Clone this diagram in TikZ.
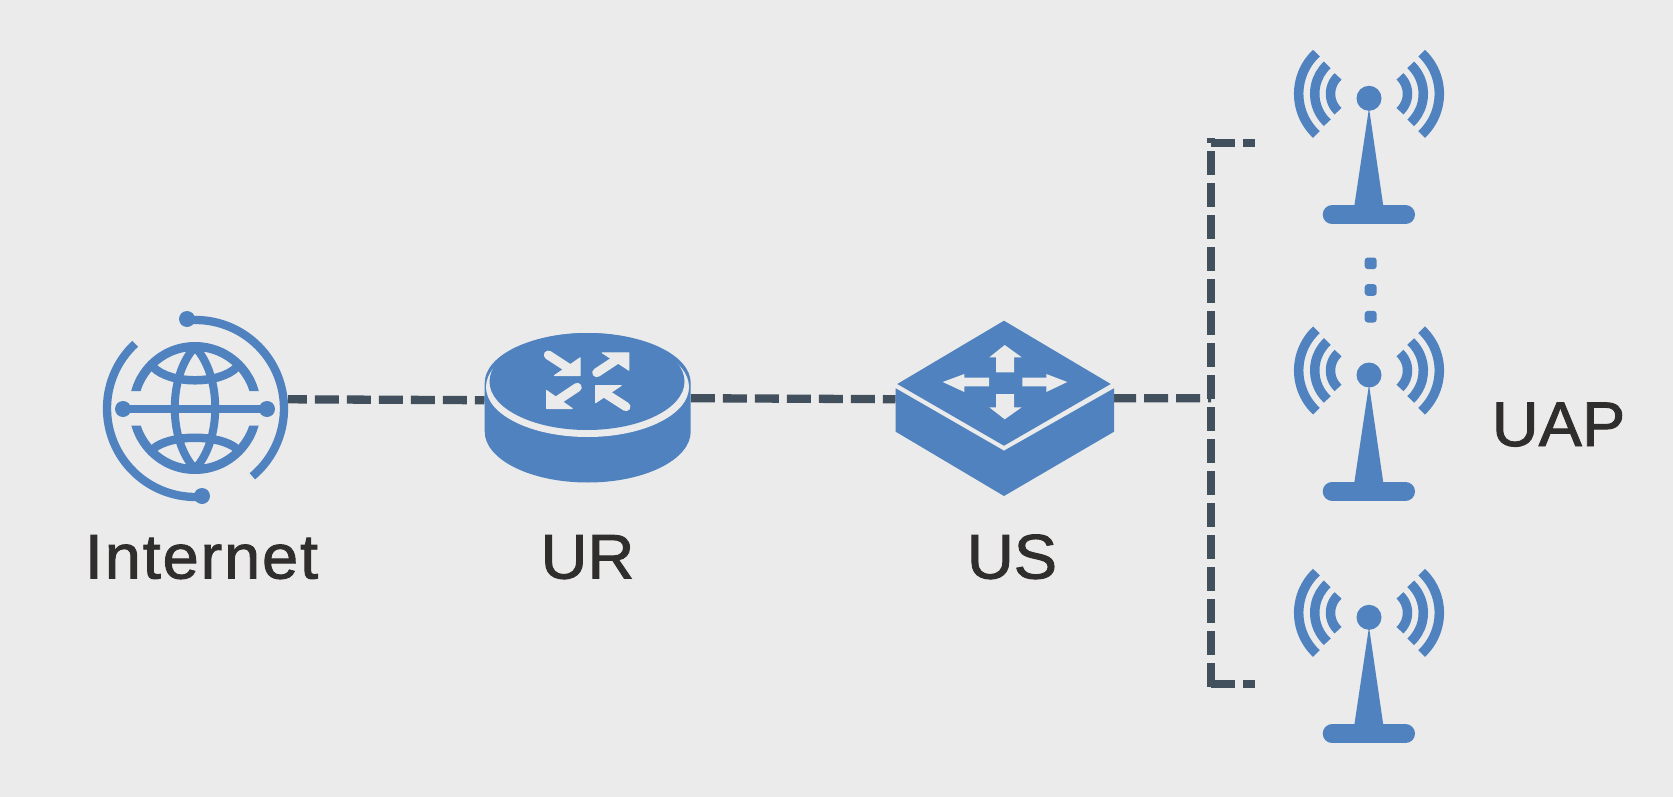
\documentclass[tikz,border=0pt]{standalone}
\usepackage{xcolor}
\usepackage{fontspec}
\setmainfont[FakeStretch=1.03, FakeBold=1.5]{Liberation Sans}
\definecolor{iconBlue}{RGB}{79,130,190}
\definecolor{paleGray}{RGB}{235,235,235}
\definecolor{linkGray}{RGB}{66,80,94}
\definecolor{labelDark}{RGB}{48,45,45}
\tikzset{
  portbox/.style={inner sep=0pt, minimum height=2pt},
  link/.style={draw=linkGray, line width=8.3pt, dash pattern=on 24pt off 8pt},
  caption/.style={text=labelDark, anchor=base, inner sep=0pt, font=\fontsize{63}{70}\selectfont},
  globeline/.style={draw=iconBlue, line width=8pt},
  turnarrow/.style={draw=paleGray, fill=paleGray, line width=1pt, line join=round},
  turntail/.style={draw=paleGray, line width=9pt, line cap=round}
}

\begin{document}
\begin{tikzpicture}[x=1pt, y=-1pt]
  \fill[paleGray] (0,0) rectangle (1673,797);
  \useasboundingbox (0,0) rectangle (1673,797);

  % invisible boxes that the links end on
  \node[portbox, minimum width=186pt] (internet) at (195,399.3) {};
  \node[portbox, minimum width=206pt] (router) at (587.7,400.2) {};
  \node[portbox, minimum width=218.3pt] (switch) at (1004.85,399.2) {};
  \coordinate (busTop) at (1211,138.5);
  \coordinate (busBottom) at (1211,686.7);
  \coordinate (busMiddle) at (1211,398.3);
  \coordinate (apTop) at (1255,142.7);
  \coordinate (apBottom) at (1255,684.3);

  % links
  \draw[link, dash phase=5.3pt] (internet.east) -- (router.west);
  \draw[link] ([yshift=2pt]router.east) -- (switch.west);
  \draw[link, dash phase=2pt] ([yshift=1pt]switch.east) -- (busMiddle);
  \draw[link] (busBottom) -- (busTop);
  \draw[link] (busTop |- apTop) -- (apTop);
  \draw[link] (busBottom |- apBottom) -- (apBottom);

  % internet globe
  \begin{scope}
    \clip (120,330) rectangle (270,391) (120,425.7) rectangle (270,490);
    \draw[globeline, line width=9pt] (195,408) circle[radius=61.5];
  \end{scope}
  \draw[globeline, line join=round] (195,347) .. controls (168,376) and (168,440) .. (195,469)
    .. controls (222,440) and (222,376) .. (195,347) -- cycle;
  \draw[globeline, line width=8.5pt] (153,367) .. controls (170,384.7) and (220,384.7) .. (237,367);
  \draw[globeline, line width=8.5pt] (153,449) .. controls (170,434) and (220,434) .. (237,449);
  \draw[globeline] (123,408.5) -- (267,408.5);
  \fill[iconBlue] (123,409) circle[radius=8] (267,409) circle[radius=8];
  \draw[globeline, line width=8.3pt] (195.5,408.5) ++(-95:88.5) arc[start angle=-95, end angle=50, radius=88.5];
  \draw[globeline, line width=8.3pt] (195.5,408.5) ++(227:88.5) arc[start angle=227, end angle=85, radius=88.5];
  \fill[iconBlue] (187,319) circle[radius=8] (202,496) circle[radius=8];

  % router
  \fill[iconBlue] (484.7,383) arc[start angle=180, end angle=360, x radius=103, y radius=50]
    -- (690.7,431.5) arc[start angle=0, end angle=180, x radius=103, y radius=51] -- cycle;
  \fill[paleGray] (587.5,387) ellipse[x radius=101.5, y radius=50];
  \fill[iconBlue] (587,381.5) ellipse[x radius=97.5, y radius=48.5];
  \draw[turntail] (548.3,355) -- (568,367.8);
  \filldraw[turnarrow] (580.2,357.8) -- (580.2,375.5) -- (554.5,375.5) -- cycle;
  \draw[turntail] (596.7,372.7) -- (616,360);
  \filldraw[turnarrow] (628.8,352.8) -- (628.8,370.2) -- (602.2,352.8) -- cycle;
  \draw[turntail] (577.3,387.3) -- (559,399.5);
  \filldraw[turnarrow] (546.5,390.5) -- (546.5,408.5) -- (572.2,408.5) -- cycle;
  \draw[turntail] (626,406.7) -- (607,394.5);
  \filldraw[turnarrow] (595.5,385.5) -- (595.5,402.8) -- (621.2,385.5) -- cycle;

  % switch
  \fill[iconBlue] (1004,320.7) -- (1110.7,384) -- (1004,445.7) -- (897.3,384) -- cycle;
  \fill[iconBlue] (895.7,388.3) -- (1004,450.7) -- (1114,388.3) -- (1114,431.7) -- (1004,496) -- (895.7,431.7) -- cycle;
  \fill[paleGray] (1004.7,345) -- (1021.7,357.3) -- (1014,357.3) -- (1014,372.3) -- (996,372.3) -- (996,357.3) -- (989.3,357.3) -- cycle;
  \fill[paleGray] (1004.7,419.3) -- (1021.7,407.3) -- (1014,407.3) -- (1014,394) -- (996,394) -- (996,407.3) -- (989.3,407.3) -- cycle;
  \fill[paleGray] (942.7,382) -- (964.3,374) -- (964.3,377.7) -- (989,377.7) -- (989,386.3) -- (964.3,386.3) -- (964.3,392) -- cycle;
  \fill[paleGray] (1067.3,382) -- (1046.3,374) -- (1046.3,377.7) -- (1022.3,377.7) -- (1022.3,386.3) -- (1046.3,386.3) -- (1046.3,392) -- cycle;

  % antennas
  \foreach \apshift in {0,276.7,519} {
    \begin{scope}[shift={(0,\apshift)}]
      \fill[iconBlue] (1369,98.3) circle[radius=12.5];
      \fill[iconBlue] (1369,108) -- (1383.3,206) -- (1354.3,206) -- cycle;
      \draw[iconBlue, line width=19pt, line cap=round] (1332.2,214.7) -- (1405.5,214.7);
      \foreach \rad in {55.6,39.6,23.8} {
        \draw[iconBlue, line width=9.5pt] (1354.3,93.8) ++(133:\rad) arc[start angle=133, end angle=227, radius=\rad];
        \draw[iconBlue, line width=9.5pt] (1383.7,93.8) ++(-47:\rad) arc[start angle=-47, end angle=47, radius=\rad];
      }
    \end{scope}
  }
  \foreach \doty in {263.3,290,316.7} {
    \fill[iconBlue, rounded corners=3pt] (1364.7,\doty-5.8) rectangle (1376.7,\doty+5.8);
  }

  % labels
  \node[caption] (internetlabel) at (201.5,578.5) {\addfontfeatures{LetterSpace=3}Internet};
  \node[caption] (routerlabel) at (587.5,578.5) {UR};
  \node[caption] (switchlabel) at (1012,578.5) {US};
  \node[caption] (aplabel) at (1558.5,446) {UAP};
\end{tikzpicture}
\end{document}
